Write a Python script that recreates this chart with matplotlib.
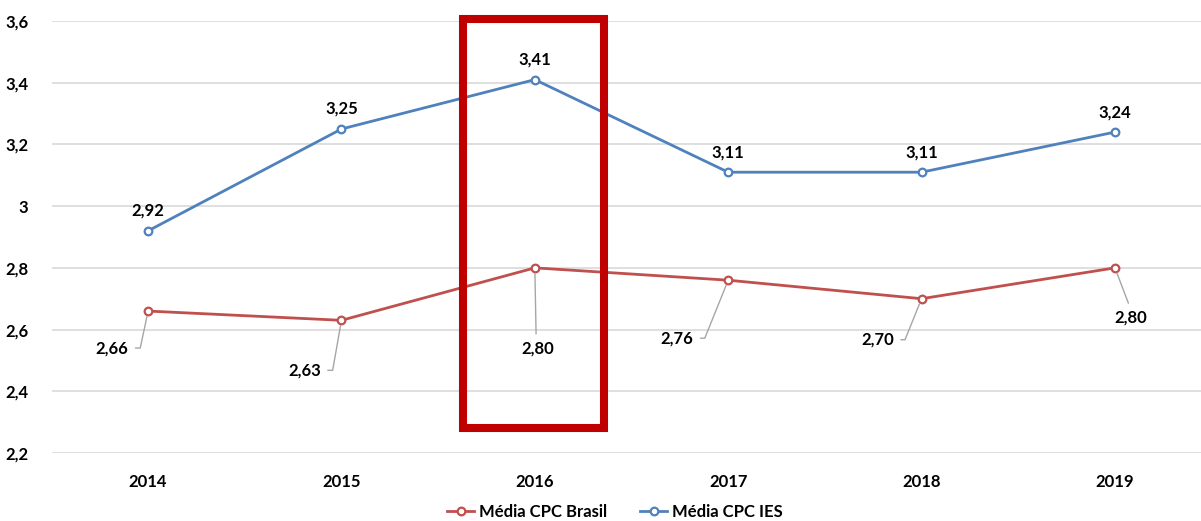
import matplotlib
matplotlib.use("Agg")
import matplotlib.pyplot as plt
from matplotlib.patches import Rectangle

years = ["2014", "2015", "2016", "2017", "2018", "2019"]
brasil = [2.66, 2.63, 2.80, 2.76, 2.70, 2.80]
ies = [2.92, 3.25, 3.41, 3.11, 3.11, 3.24]
yticks = [2.2, 2.4, 2.6, 2.8, 3.0, 3.2, 3.4, 3.6]
ytick_labels = ["2,2", "2,4", "2,6", "2,8", "3", "3,2", "3,4", "3,6"]

RED = "#C0504D"
BLUE = "#4F81BD"
BOX = "#C00000"

plt.rcParams['font.family'] = ['Lato', 'DejaVu Sans']
plt.rcParams['font.weight'] = 'bold'

fig = plt.figure(figsize=(12.01, 5.21), dpi=100)
ax = fig.add_axes([52/1201, 1-453/521, 1-52/1201, (453-21)/521])

x = list(range(len(years)))
ax.plot(x, brasil, color=RED, lw=2, marker='o', ms=5.5, mfc='white', mec=RED, mew=1.6,
        label="Média CPC Brasil", zorder=3)
ax.plot(x, ies, color=BLUE, lw=2, marker='o', ms=5.5, mfc='white', mec=BLUE, mew=1.6,
        label="Média CPC IES", zorder=3)

ax.set_xlim(-0.497, 5.445)
ax.set_ylim(2.2, 3.6)
ax.set_yticks(yticks)
ax.set_yticklabels(ytick_labels)
ax.set_xticks(x)
ax.set_xticklabels(years)
for s in ax.spines.values():
    s.set_visible(False)
ax.grid(axis='y', color='#D9D9D9', lw=1.2)
ax.set_axisbelow(True)
ax.tick_params(axis='both', length=0, labelsize=12, labelcolor='black')
ax.tick_params(axis='y', pad=17)
ax.tick_params(axis='x', pad=15)
for lab in ax.get_xticklabels() + ax.get_yticklabels():
    lab.set_fontweight('bold')

def fmt(v):
    return f"{v:.2f}".replace('.', ',')

# blue labels above
for xi, v in zip(x, ies):
    ax.annotate(fmt(v), (xi, v), xytext=(0, 20), textcoords='offset pixels',
                ha='center', va='center', fontsize=12, fontweight='bold', color='black')

# red labels with leader lines
red_offsets = [(-36, -37), (-37, -50), (3, -81), (-51, -58), (-44, -41), (16, -50)]
red_styles = [
    dict(relpos=(1.0, 0.5), conn="angle,angleA=0,angleB=78,rad=0"),
    dict(relpos=(1.0, 0.5), conn="angle,angleA=0,angleB=80,rad=0"),
    dict(relpos=(0.45, 1.0), conn="arc3"),
    dict(relpos=(1.0, 0.5), conn="angle,angleA=0,angleB=68,rad=0"),
    dict(relpos=(1.0, 0.5), conn="angle,angleA=0,angleB=68,rad=0"),
    dict(relpos=(0.5, 1.0), conn="arc3"),
]
for xi, v, off, st in zip(x, brasil, red_offsets, red_styles):
    ax.annotate(fmt(v), (xi, v), xytext=off, textcoords='offset pixels',
                ha='center', va='center', fontsize=12, fontweight='bold', color='black',
                arrowprops=dict(arrowstyle='-', color='#A6A6A6', lw=1,
                                relpos=st['relpos'], connectionstyle=st['conn'],
                                shrinkA=3, shrinkB=4))

# highlight box around 2016
rect = Rectangle((1.631, 2.281), 2.360 - 1.631, 3.605 - 2.281, fill=False,
                 edgecolor=BOX, lw=5.8, zorder=5, clip_on=False)
ax.add_patch(rect)

leg = fig.legend(loc='center', bbox_to_anchor=(615/1201, 1-512/521), ncol=2, frameon=False,
                 fontsize=12, handlelength=1.6, columnspacing=2.0, handletextpad=0.3,
                 prop={'weight': 'bold', 'size': 12})

fig.savefig("out.png", dpi=100)
